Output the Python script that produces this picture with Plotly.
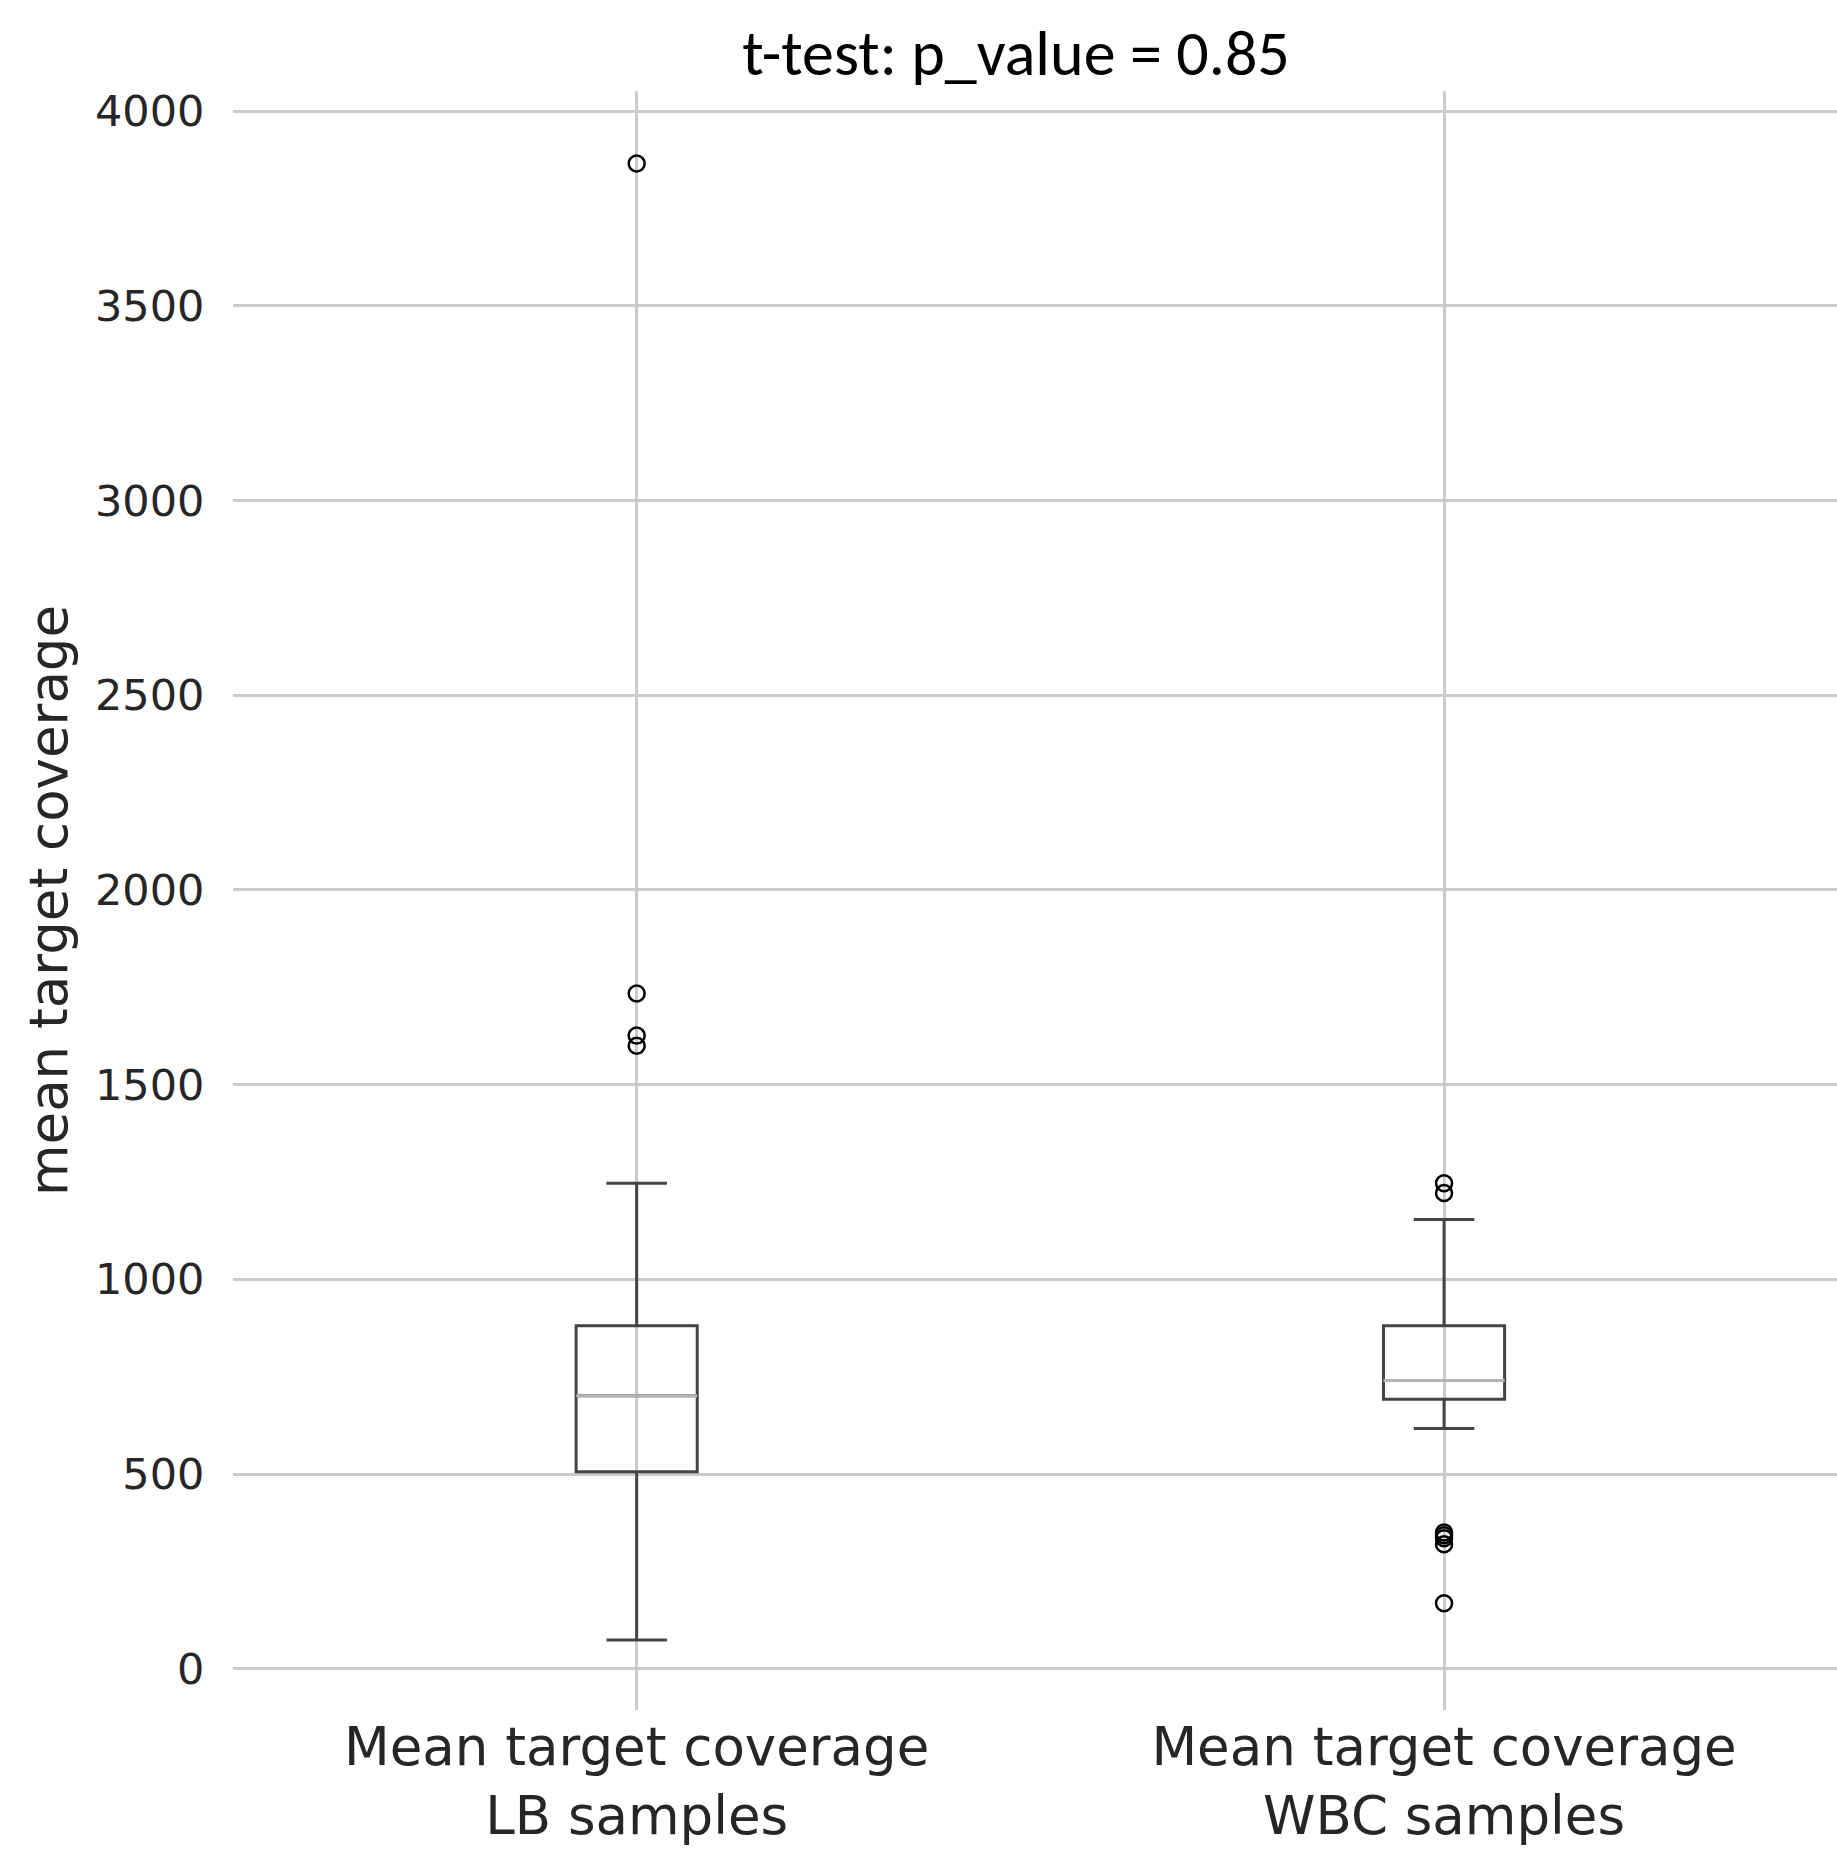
import plotly.graph_objects as go

# ---- data ----
categories = ["Mean target coverage<br>LB samples", "Mean target coverage<br>WBC samples"]
positions = [1, 2]
q1 = [506, 692]
median = [701, 740]
q3 = [881, 881]
lower_whisker = [74, 617]
upper_whisker = [1247, 1154]
lb_outliers = [3866, 1734, 1626, 1600]
wbc_outliers = [1247, 1222, 350, 343, 335, 320, 168]
y_ticks = [0, 500, 1000, 1500, 2000, 2500, 3000, 3500, 4000]
title_text = "t-test: p_value = 0.85"
y_title = "mean target coverage"

BOX_W = 0.15
GRID = "#cccccc"
EDGE = "#444444"
MED = "#b3b3b3"
TXT = "#262626"

fig = go.Figure()

# boxes with whiskers
fig.add_trace(go.Box(
    x=positions, q1=q1, median=median, q3=q3,
    lowerfence=lower_whisker, upperfence=upper_whisker,
    width=BOX_W, whiskerwidth=0.5, boxpoints=False,
    line=dict(color=EDGE, width=3), fillcolor="rgba(0,0,0,0)",
    hoverinfo="skip", showlegend=False,
))
# median lines (light grey) drawn as flat boxes
fig.add_trace(go.Box(
    x=positions, q1=median, median=median, q3=median,
    lowerfence=median, upperfence=median,
    width=BOX_W, whiskerwidth=0, boxpoints=False,
    line=dict(color=MED, width=3), fillcolor="rgba(0,0,0,0)",
    hoverinfo="skip", showlegend=False,
))
# outliers
for pos, vals in zip(positions, [lb_outliers, wbc_outliers]):
    fig.add_trace(go.Scatter(
        x=[pos] * len(vals), y=vals, mode="markers",
        marker=dict(symbol="circle-open", size=16, color="black", line=dict(width=2.5)),
        hoverinfo="skip", showlegend=False,
    ))

fig.update_layout(
    width=1837, height=1853,
    margin=dict(l=233, r=0, t=91, b=143, autoexpand=False),
    plot_bgcolor="white", paper_bgcolor="white",
    title=dict(text=title_text, x=1016 / 1837, xref="container", xanchor="center",
               y=1 - 53 / 1853, yref="container", yanchor="middle",
               font=dict(family="Carlito, Calibri, Lato", size=64, color="black")),
    xaxis=dict(range=[0.5, 2.4867], tickvals=positions, ticktext=categories,
               showgrid=True, gridcolor=GRID, gridwidth=2.5, zeroline=False,
               showline=False, ticks="", ticklabelstandoff=1,
               tickfont=dict(family="DejaVu Sans", size=53, color=TXT), automargin=False),
    yaxis=dict(range=[-106, 4052], tickvals=y_ticks, ticktext=[str(v) for v in y_ticks],
               showgrid=True, gridcolor=GRID, gridwidth=2.5, zeroline=False,
               showline=False, ticks="outside", ticklen=19, tickcolor="rgba(0,0,0,0)",
               tickfont=dict(family="DejaVu Sans", size=43, color=TXT), automargin=False,
               title=dict(text=y_title, standoff=10,
                          font=dict(family="DejaVu Sans", size=53, color=TXT))),
)

fig.write_html("out.html")
